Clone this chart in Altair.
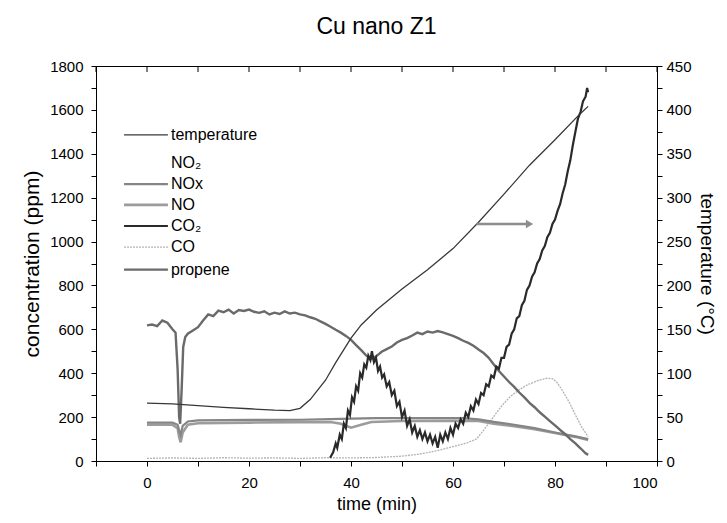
import altair as alt
import pandas as pd

FONT = "Liberation Sans"

# ---------------- data ----------------
temp_t = [0, 5, 10, 15, 20, 25, 28, 30, 32, 35, 37, 40, 42, 45, 50, 55, 60, 65, 70, 75, 80, 85, 86.5]
temp_v = [66, 65, 63, 61, 59.5, 58, 57.5, 60, 70, 92, 112, 140, 155, 172, 196, 218, 242, 272, 304, 337, 366, 396, 404]

propene_t = [0, 1, 2, 3, 4, 5, 5.6, 6.0, 6.3, 6.5, 6.8, 7.1, 7.5, 8, 9, 10, 11, 12, 13, 14, 15, 16, 17, 18, 19,
             20, 21, 22, 23, 24, 25, 26, 27, 28, 29, 30, 31, 32, 33, 34, 35, 36, 37, 38, 39, 40, 41, 42, 43, 44,
             45, 46, 47, 48, 49, 50, 51, 52, 53, 54, 55, 56, 57, 58, 59, 60, 61, 62, 63, 64, 65, 66, 67, 68, 69,
             70, 71, 72, 73, 74, 75, 76, 77, 78, 79, 80, 81, 82, 83, 84, 85, 86, 86.5]
propene_c = [618, 622, 615, 640, 630, 600, 585, 420, 200, 170, 330, 520, 565, 580, 595, 610, 640, 668, 660, 685,
             678, 690, 672, 688, 684, 690, 680, 675, 682, 668, 676, 670, 682, 672, 676, 668, 664, 655, 648, 636,
             625, 612, 598, 585, 570, 552, 528, 505, 480, 465, 478, 498, 510, 522, 540, 552, 560, 572, 585, 578,
             590, 585, 592, 586, 578, 570, 560, 548, 538, 525, 508, 492, 470, 440, 410, 385, 360, 338, 312, 290,
             265, 245, 222, 202, 182, 162, 142, 122, 100, 80, 58, 35, 28]

co2_t = [35.9, 36.5, 37, 37.3, 37.8, 38.2, 38.6, 39, 39.4, 39.8, 40.2, 40.6, 41, 41.4, 41.8, 42.2, 42.6, 43, 43.4,
         43.8, 44.1, 44.5, 44.9, 45.3, 45.7, 46.1, 46.5, 47, 47.5, 48, 48.5, 49, 49.5, 50, 50.5, 51, 51.5, 52,
         52.5, 53, 53.5, 54, 54.5, 55, 55.5, 56, 56.5, 57, 57.5, 58, 58.5, 59, 59.5, 60, 60.5, 61, 61.5, 62, 62.5,
         63, 63.5, 64, 64.5, 65, 65.5, 66, 66.5, 67, 67.5, 68, 68.5, 69, 69.5, 70, 70.5, 71, 71.5, 72, 72.5, 73,
         73.5, 74, 74.5, 75, 75.5, 76, 76.5, 77, 77.5, 78, 78.5, 79, 79.5, 80, 80.5, 81, 81.5, 82, 82.5, 83,
         83.5, 84, 84.5, 85, 85.5, 86, 86.3, 86.5]
co2_c = [15, 40, 80, 60, 120, 100, 170, 150, 230, 210, 290, 270, 340, 320, 400, 380, 440, 425, 480, 460, 500, 450,
         470, 410, 430, 380, 395, 340, 360, 300, 320, 250, 270, 200, 230, 160, 190, 130, 160, 110, 140, 100, 130,
         90, 120, 80, 110, 60, 120, 90, 130, 100, 150, 120, 170, 150, 190, 170, 220, 200, 250, 230, 280, 260, 310,
         300, 350, 340, 390, 380, 430, 420, 470, 470, 520, 530, 580, 600, 650, 660, 710, 730, 780, 800, 840, 860,
         900, 920, 960, 980, 1020, 1040, 1080, 1100, 1140, 1170, 1220, 1260, 1320, 1370, 1440, 1500, 1560, 1590,
         1640, 1660, 1700, 1680]

nox_t = [0, 5, 6.0, 6.3, 6.6, 7.0, 8, 10, 20, 30, 38, 45, 55, 62, 65, 68, 72, 76, 80, 84, 86.5]
nox_c = [175, 175, 165, 140, 120, 160, 180, 185, 187, 188, 192, 195, 195, 195, 190, 178, 165, 150, 130, 112, 100]

no_t = [0, 5, 6.0, 6.3, 6.6, 7.0, 8, 10, 20, 30, 36, 38, 40, 42, 44, 50, 60, 65, 68, 72, 76, 80, 84, 86.5]
no_c = [165, 165, 150, 110, 85, 130, 165, 172, 175, 177, 178, 170, 152, 165, 178, 182, 183, 182, 170, 158, 145,
        128, 110, 96]

co_t = [0, 5, 10, 15, 20, 25, 30, 35, 40, 45, 50, 53, 55, 57.5, 60, 62.7, 64.6, 66, 67.9, 69.5, 71.2, 73, 74.5,
        76.5, 78.4, 79.5, 80.3, 81.5, 82.9, 84, 85.2, 86.5]
co_c = [12, 14, 12, 15, 13, 14, 12, 15, 14, 16, 22, 30, 38, 50, 65, 82, 100, 140, 200, 250, 293, 325, 346, 365,
        377, 375, 361, 320, 263, 210, 156, 111]

legend_names = ["temperature", "NO\u2082", "NOx", "NO", "CO\u2082", "CO", "propene"]
arrow_t = [64.6, 75.0]
arrow_temp = 270
x_tick_values = list(range(-10, 101, 10))

# ---------------- styles / layout ----------------
STYLE = {
    "temperature": dict(color="#383838", strokeWidth=1.3),
    "NO\u2082": dict(color="white", strokeWidth=0.1, opacity=0),
    "NOx": dict(color="#858585", strokeWidth=2.2),
    "NO": dict(color="#9c9c9c", strokeWidth=2.6),
    "CO\u2082": dict(color="#2a2a2a", strokeWidth=2.2),
    "CO": dict(color="#b4b4b4", strokeWidth=1.3, strokeDash=[2, 1]),
    "propene": dict(color="#6a6a6a", strokeWidth=2.4),
}
LEG_Y = [1486, 1358, 1262, 1167, 1071, 975, 872]
LEG_X0, LEG_X1, LEG_XT = -4.5, 4.1, 4.7

X = alt.Scale(domain=[-10, 100], nice=False, zero=False)
YC = alt.Scale(domain=[0, 1800], nice=False)
YT = alt.Scale(domain=[0, 450], nice=False)

x_axis = alt.Axis(title="time (min)", values=x_tick_values, format="d",
                  labelExpr="datum.value % 20 == 0 ? datum.label : ''",
                  tickSize=5, labelPadding=9, labelFontSize=15, titleFontSize=18,
                  titleFontWeight="normal", titlePadding=5, grid=False)
y_axis = alt.Axis(title="concentration (ppm)", values=list(range(0, 1801, 100)), format="d",
                  labelExpr="datum.value % 200 == 0 ? datum.label : ''",
                  tickSize=5, labelPadding=8, labelFontSize=15, titleFontSize=21,
                  titleFontWeight="normal", titlePadding=7, grid=False)
t_axis = alt.Axis(orient="right", title="temperature (\u00b0C)", values=list(range(0, 451, 25)), format="d",
                  labelExpr="datum.value % 50 == 0 ? datum.label : ''",
                  tickSize=5, labelPadding=4, labelFontSize=15, titleFontSize=19,
                  titleFontWeight="normal", titlePadding=5, grid=False)


def conc_line(t, c, name, xax=None, yax=None):
    df = pd.DataFrame({"t": t, "c": c})
    return alt.Chart(df).mark_line(clip=True, **STYLE[name]).encode(
        x=alt.X("t:Q", scale=X, axis=xax),
        y=alt.Y("c:Q", scale=YC, axis=yax),
        order="t:Q",
    )


layers = [
    conc_line(co_t, co_c, "CO", xax=x_axis, yax=y_axis),
    conc_line(no_t, no_c, "NO"),
    conc_line(nox_t, nox_c, "NOx"),
    conc_line(propene_t, propene_c, "propene"),
    conc_line(co2_t, co2_c, "CO\u2082"),
]

temp_df = pd.DataFrame({"t": temp_t, "T": temp_v})
layers.append(
    alt.Chart(temp_df).mark_line(clip=True, **STYLE["temperature"]).encode(
        x=alt.X("t:Q", scale=X, axis=None),
        y=alt.Y("T:Q", scale=YT, axis=t_axis),
        order="t:Q",
    )
)

# inward ticks along the top frame (mirror of the time axis)
top_df = pd.DataFrame({"t": x_tick_values})
layers.append(
    alt.Chart(top_df).mark_rule(color="black", strokeWidth=1).encode(
        x=alt.X("t:Q", scale=X, axis=None),
        y=alt.value(0), y2=alt.value(6),
    )
)

# arrow pointing to the temperature axis
arr_df = pd.DataFrame({"t0": [arrow_t[0]], "t1": [arrow_t[1]], "T": [arrow_temp]})
layers.append(
    alt.Chart(arr_df).mark_rule(color="#8c8c8c", strokeWidth=2.5).encode(
        x=alt.X("t0:Q", scale=X, axis=None), x2="t1:Q",
        y=alt.Y("T:Q", scale=YT, axis=None),
    )
)
layers.append(
    alt.Chart(arr_df).mark_point(shape="triangle-right", filled=True, color="#8c8c8c",
                                 size=70, opacity=1).encode(
        x=alt.X("t1:Q", scale=X, axis=None),
        y=alt.Y("T:Q", scale=YT, axis=None),
    )
)

# legend drawn in data space
for name, yv in zip(legend_names, LEG_Y):
    ldf = pd.DataFrame({"x0": [LEG_X0], "x1": [LEG_X1], "xt": [LEG_XT], "y": [yv], "label": [name]})
    st = dict(STYLE[name])
    layers.append(
        alt.Chart(ldf).mark_rule(**st).encode(
            x=alt.X("x0:Q", scale=X, axis=None), x2="x1:Q",
            y=alt.Y("y:Q", scale=YC, axis=None),
        )
    )
    layers.append(
        alt.Chart(ldf).mark_text(align="left", baseline="middle", font=FONT, fontSize=16,
                                 color="black").encode(
            x=alt.X("xt:Q", scale=X, axis=None),
            y=alt.Y("y:Q", scale=YC, axis=None),
            text="label:N",
        )
    )

chart = (
    alt.layer(*layers)
    .resolve_scale(x="independent", y="independent")
    .resolve_axis(x="independent", y="independent")
    .properties(
        width=561, height=395,
        padding={"left": 88, "top": 58, "right": 62, "bottom": 54},
        autosize="none",
        title=alt.TitleParams("Cu nano Z1", fontSize=23, font=FONT, fontWeight="normal",
                              anchor="middle", offset=20, color="black"),
    )
    .configure_view(stroke="black", strokeWidth=1)
    .configure_axis(domainColor="black", tickColor="black", labelColor="black",
                    titleColor="black", labelFont=FONT, titleFont=FONT,
                    titleFontWeight="normal")
)

chart.save("out.html", embed_options={"renderer": "svg", "actions": False})
